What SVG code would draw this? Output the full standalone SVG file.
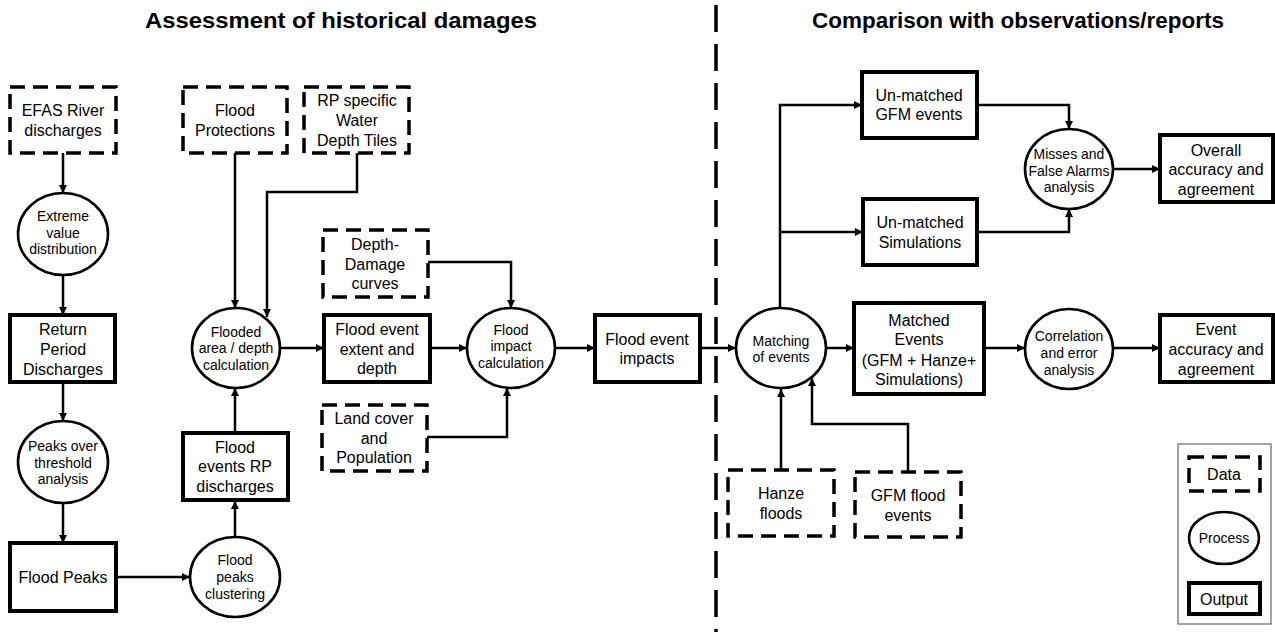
<svg xmlns="http://www.w3.org/2000/svg" width="1275" height="632" viewBox="0 0 1275 632">
<defs>
<marker id="arr" markerUnits="userSpaceOnUse" markerWidth="9" markerHeight="9" refX="8" refY="4" orient="auto"><path d="M0,0 L8,4 L0,8 z" fill="#000"/></marker>
<style>
.data{fill:#fff;stroke:#000;stroke-width:3.5;stroke-dasharray:15 8}
.proc{fill:#fff;stroke:#000;stroke-width:2.6}
.out{fill:#fff;stroke:#000;stroke-width:4}
.t{font-family:"Liberation Sans",Arial,sans-serif;font-size:16px;text-anchor:middle;dominant-baseline:central;fill:#000}
.p{font-family:"Liberation Sans",Arial,sans-serif;font-size:14px;text-anchor:middle;dominant-baseline:central;fill:#000}
.title{font-family:"Liberation Sans",Arial,sans-serif;font-size:22px;font-weight:bold;text-anchor:middle;dominant-baseline:central;fill:#000}
.c{fill:none;stroke:#000;stroke-width:2.5;marker-end:url(#arr)}
</style>
</defs>
<rect width="1275" height="632" fill="#fff"/>
<text class="title" x="341" y="20" textLength="392" lengthAdjust="spacingAndGlyphs">Assessment of historical damages</text>
<text class="title" x="1018" y="20" textLength="412" lengthAdjust="spacingAndGlyphs">Comparison with observations/reports</text>
<line x1="716" y1="5" x2="716" y2="632" stroke="#000" stroke-width="3.5" stroke-dasharray="27 12"/>

<g id="connectors">
<path class="c" d="M63,153 V193"/>
<path class="c" d="M63,275 V315"/>
<path class="c" d="M63,382 V421"/>
<path class="c" d="M63,503 V543"/>
<path class="c" d="M116,577 H190"/>
<path class="c" d="M235,537 V501"/>
<path class="c" d="M235,433 V388"/>
<path class="c" d="M235,153 V308"/>
<path class="c" d="M357,153 V192 H267 V317"/>
<path class="c" d="M280,348 H324"/>
<path class="c" d="M430,348 H467"/>
<path class="c" d="M428,262 H511 V308"/>
<path class="c" d="M427,437 H507 V388"/>
<path class="c" d="M555,348 H595"/>
<path class="c" d="M700,348 H736"/>
<path class="c" d="M780,308 V105 H862"/>
<path class="c" d="M780,232 H863"/>
<path class="c" d="M826,348 H854"/>
<path class="c" d="M781,470 V389"/>
<path class="c" d="M908,472 V424 H812 V378"/>
<path class="c" d="M977,105 H1069 V129"/>
<path class="c" d="M977,232 H1069 V209"/>
<path class="c" d="M1113,169 H1160"/>
<path class="c" d="M984,348 H1025"/>
<path class="c" d="M1113,348 H1160"/>
</g>

<g id="efas"><rect class="data" x="10" y="87" width="106" height="66"/><text class="t" x="63" y="110">EFAS River</text><text class="t" x="63" y="130">discharges</text></g>
<g id="protections"><rect class="data" x="183" y="87" width="104" height="66"/><text class="t" x="235" y="110">Flood</text><text class="t" x="235" y="130">Protections</text></g>
<g id="rptiles"><rect class="data" x="304" y="87" width="105" height="66"/><text class="t" x="357" y="100">RP specific</text><text class="t" x="357" y="120">Water</text><text class="t" x="357" y="140">Depth Tiles</text></g>
<g id="depthdamage"><rect class="data" x="323" y="230" width="105" height="67"/><text class="t" x="375" y="244">Depth-</text><text class="t" x="375" y="264">Damage</text><text class="t" x="375" y="283">curves</text></g>
<g id="landcover"><rect class="data" x="322" y="405" width="105" height="66"/><text class="t" x="374" y="418">Land cover</text><text class="t" x="374" y="438">and</text><text class="t" x="374" y="457">Population</text></g>
<g id="hanze"><rect class="data" x="728" y="470" width="106" height="66"/><text class="t" x="781" y="493">Hanze</text><text class="t" x="781" y="513">floods</text></g>
<g id="gfmflood"><rect class="data" x="855" y="472" width="106" height="65"/><text class="t" x="908" y="495">GFM flood</text><text class="t" x="908" y="515">events</text></g>

<g id="evd"><ellipse class="proc" cx="63" cy="234" rx="45" ry="41"/><text class="p" x="63" y="216">Extreme</text><text class="p" x="63" y="233">value</text><text class="p" x="63" y="249">distribution</text></g>
<g id="pot"><ellipse class="proc" cx="63" cy="462" rx="45" ry="41"/><text class="p" x="63" y="446">Peaks over</text><text class="p" x="63" y="463">threshold</text><text class="p" x="63" y="479">analysis</text></g>
<g id="clustering"><ellipse class="proc" cx="235" cy="577" rx="45" ry="40"/><text class="p" x="235" y="560">Flood</text><text class="p" x="235" y="577">peaks</text><text class="p" x="235" y="594">clustering</text></g>
<g id="flooded"><ellipse class="proc" cx="236" cy="348" rx="44" ry="40"/><text class="p" x="236" y="332">Flooded</text><text class="p" x="236" y="348">area / depth</text><text class="p" x="236" y="365">calculation</text></g>
<g id="impactcalc"><ellipse class="proc" cx="511" cy="348" rx="44" ry="40"/><text class="p" x="511" y="330">Flood</text><text class="p" x="511" y="346">impact</text><text class="p" x="511" y="363">calculation</text></g>
<g id="matching"><ellipse class="proc" cx="781" cy="348" rx="45" ry="40"/><text class="p" x="781" y="341">Matching</text><text class="p" x="781" y="357">of events</text></g>
<g id="misses"><ellipse class="proc" cx="1069" cy="169" rx="44" ry="40"/><text class="p" x="1069" y="154">Misses and</text><text class="p" x="1069" y="171">False Alarms</text><text class="p" x="1069" y="187">analysis</text></g>
<g id="correlation"><ellipse class="proc" cx="1069" cy="349" rx="44" ry="40"/><text class="p" x="1069" y="336">Correlation</text><text class="p" x="1069" y="353">and error</text><text class="p" x="1069" y="370">analysis</text></g>

<g id="rpd"><rect class="out" x="10" y="315" width="105" height="67"/><text class="t" x="63" y="329">Return</text><text class="t" x="63" y="349">Period</text><text class="t" x="63" y="369">Discharges</text></g>
<g id="floodpeaks"><rect class="out" x="10" y="543" width="106" height="68"/><text class="t" x="63" y="577">Flood Peaks</text></g>
<g id="eventsrp"><rect class="out" x="183" y="433" width="105" height="67"/><text class="t" x="235" y="447">Flood</text><text class="t" x="235" y="466">events RP</text><text class="t" x="235" y="486">discharges</text></g>
<g id="extent"><rect class="out" x="324" y="315" width="106" height="67"/><text class="t" x="377" y="329">Flood event</text><text class="t" x="377" y="349">extent and</text><text class="t" x="377" y="368">depth</text></g>
<g id="impacts"><rect class="out" x="595" y="315" width="105" height="67"/><text class="t" x="647" y="339">Flood event</text><text class="t" x="647" y="358">impacts</text></g>
<g id="unmatchedgfm"><rect class="out" x="862" y="72" width="115" height="66"/><text class="t" x="919" y="95">Un-matched</text><text class="t" x="919" y="114">GFM events</text></g>
<g id="unmatchedsim"><rect class="out" x="863" y="199" width="114" height="66"/><text class="t" x="920" y="222">Un-matched</text><text class="t" x="920" y="242">Simulations</text></g>
<g id="overall"><rect class="out" x="1160" y="135" width="113" height="67"/><text class="t" x="1216" y="150">Overall</text><text class="t" x="1216" y="169">accuracy and</text><text class="t" x="1216" y="189">agreement</text></g>
<g id="matched"><rect class="out" x="854" y="303" width="130" height="91"/><text class="t" x="919" y="320">Matched</text><text class="t" x="919" y="339">Events</text><text class="t" x="919" y="360">(GFM + Hanze+</text><text class="t" x="919" y="379">Simulations)</text></g>
<g id="eventacc"><rect class="out" x="1160" y="315" width="113" height="67"/><text class="t" x="1216" y="329">Event</text><text class="t" x="1216" y="349">accuracy and</text><text class="t" x="1216" y="369">agreement</text></g>

<g id="legend">
<rect x="1178" y="444" width="93" height="180" fill="#fff" stroke="#666" stroke-width="1.2"/>
<rect class="data" x="1189" y="457" width="71" height="34"/><text class="t" x="1224" y="474">Data</text>
<ellipse class="proc" cx="1224" cy="538" rx="35" ry="26"/><text class="p" x="1224" y="538">Process</text>
<rect class="out" x="1189" y="583" width="71" height="31"/><text class="t" x="1224" y="599">Output</text>
</g>
</svg>
